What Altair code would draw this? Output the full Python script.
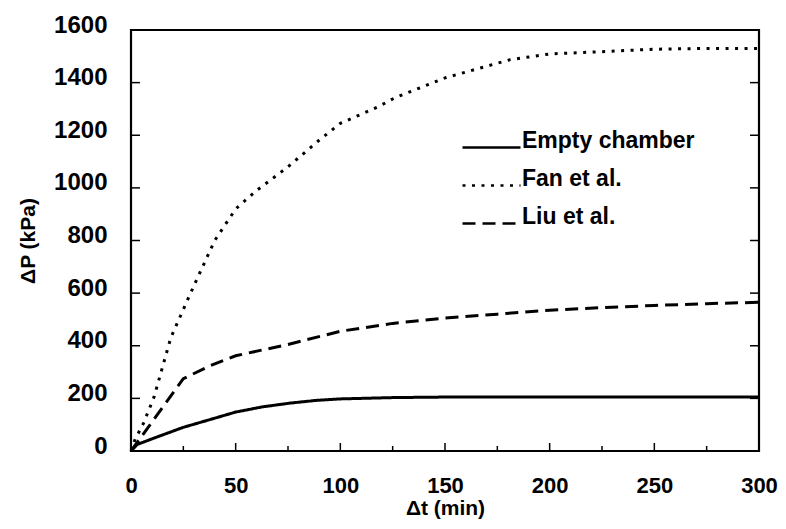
import altair as alt
import pandas as pd

# ---- data ----
series_names = ["Empty chamber", "Fan et al.", "Liu et al."]

empty_t = [0, 3, 6, 12, 25, 38, 50, 63, 76, 88, 100, 125, 150, 175, 200, 225, 250, 275, 300]
empty_p = [0, 25, 34, 52, 90, 120, 148, 168, 182, 192, 198, 203, 205, 205, 205, 205, 205, 205, 205]

fan_t = [0, 2, 6, 11, 19, 27, 32, 40, 50, 60, 75, 90, 100, 118, 126, 150, 181, 200, 223, 250, 275, 300]
fan_p = [0, 45, 106, 205, 430, 574, 662, 800, 920, 990, 1080, 1182, 1245, 1308, 1342, 1418, 1487, 1509, 1517, 1527, 1530, 1530]

liu_t = [0, 25, 38, 50, 75, 100, 125, 150, 175, 200, 225, 250, 275, 300]
liu_p = [0, 275, 325, 362, 405, 455, 485, 505, 520, 535, 545, 553, 560, 565]

x_tick_labels = [0, 50, 100, 150, 200, 250, 300]
y_tick_labels = [0, 200, 400, 600, 800, 1000, 1200, 1400, 1600]
y_inner_ticks = [200, 400, 600, 800, 1000, 1200, 1400]
x_major_ticks = [50, 100, 150, 200, 250]
x_minor_ticks = [25, 75, 125, 175, 225, 275]

rows = []
for name, ts, ps in zip(series_names, [empty_t, fan_t, liu_t], [empty_p, fan_p, liu_p]):
    for t, p in zip(ts, ps):
        rows.append({"t": t, "p": p, "series": name})
df = pd.DataFrame(rows)

W, H = 628, 421

x_scale = alt.Scale(domain=[0, 300], nice=False, zero=False)
y_scale = alt.Scale(domain=[0, 1600], nice=False, zero=False)

x_axis = alt.Axis(title="Δt (min)", values=x_tick_labels, format="d", labelPadding=24,
                  labelFontSize=22, titlePadding=1, labelFlush=False)
y_axis = alt.Axis(title="ΔP (kPa)", values=y_tick_labels, format="d", labelPadding=24,
                  labelOffset=-5, titlePadding=15, labelFlush=False)

lines = alt.Chart(df).mark_line(color="black", strokeWidth=3, strokeCap="butt").encode(
    x=alt.X("t:Q", scale=x_scale, axis=x_axis),
    y=alt.Y("p:Q", scale=y_scale, axis=y_axis),
    strokeDash=alt.StrokeDash(
        "series:N",
        scale=alt.Scale(domain=series_names, range=[[1, 0], [3, 6.5], [13, 7]]),
        legend=alt.Legend(
            title=None, orient="none", legendX=330, legendY=100,
            symbolType="stroke", symbolSize=3364, symbolStrokeWidth=2.6,
            symbolStrokeColor="black", clipHeight=35, rowPadding=2,
            labelFont="Liberation Sans", labelFontSize=23, labelFontWeight="bold",
            labelColor="black", labelBaseline="alphabetic", labelOffset=0,
            labelLimit=400,
        ),
    ),
)

ydf = pd.DataFrame({"v": y_inner_ticks})
left_ticks = alt.Chart(ydf).mark_rule(color="black", strokeWidth=1.5).encode(
    y=alt.Y("v:Q", scale=y_scale, axis=y_axis), x=alt.value(0), x2=alt.value(9))
right_ticks = alt.Chart(ydf).mark_rule(color="black", strokeWidth=1.5).encode(
    y=alt.Y("v:Q", scale=y_scale, axis=y_axis), x=alt.value(W - 9), x2=alt.value(W))

xmaj = pd.DataFrame({"v": x_major_ticks})
xmin = pd.DataFrame({"v": x_minor_ticks})
x_major = alt.Chart(xmaj).mark_rule(color="black", strokeWidth=1.5).encode(
    x=alt.X("v:Q", scale=x_scale, axis=x_axis), y=alt.value(H), y2=alt.value(H - 8))
x_minor = alt.Chart(xmin).mark_rule(color="black", strokeWidth=1.5).encode(
    x=alt.X("v:Q", scale=x_scale, axis=x_axis), y=alt.value(H), y2=alt.value(H - 5))

chart = alt.layer(lines, left_ticks, right_ticks, x_major, x_minor).properties(
    width=W, height=H,
    autosize=alt.AutoSizeParams(type="none"),
    padding={"left": 123, "top": 22, "right": 19, "bottom": 68},
    background="white",
).configure_view(
    stroke="black", strokeWidth=2.2
).configure_axis(
    domain=False, ticks=False, tickSize=0, grid=False,
    labelFont="Liberation Sans", labelFontSize=24, labelFontWeight="bold", labelColor="black",
    titleFont="Liberation Sans", titleFontSize=21, titleFontWeight="bold", titleColor="black",
)

chart.save("out.html", embed_options={"renderer": "svg", "actions": False})
